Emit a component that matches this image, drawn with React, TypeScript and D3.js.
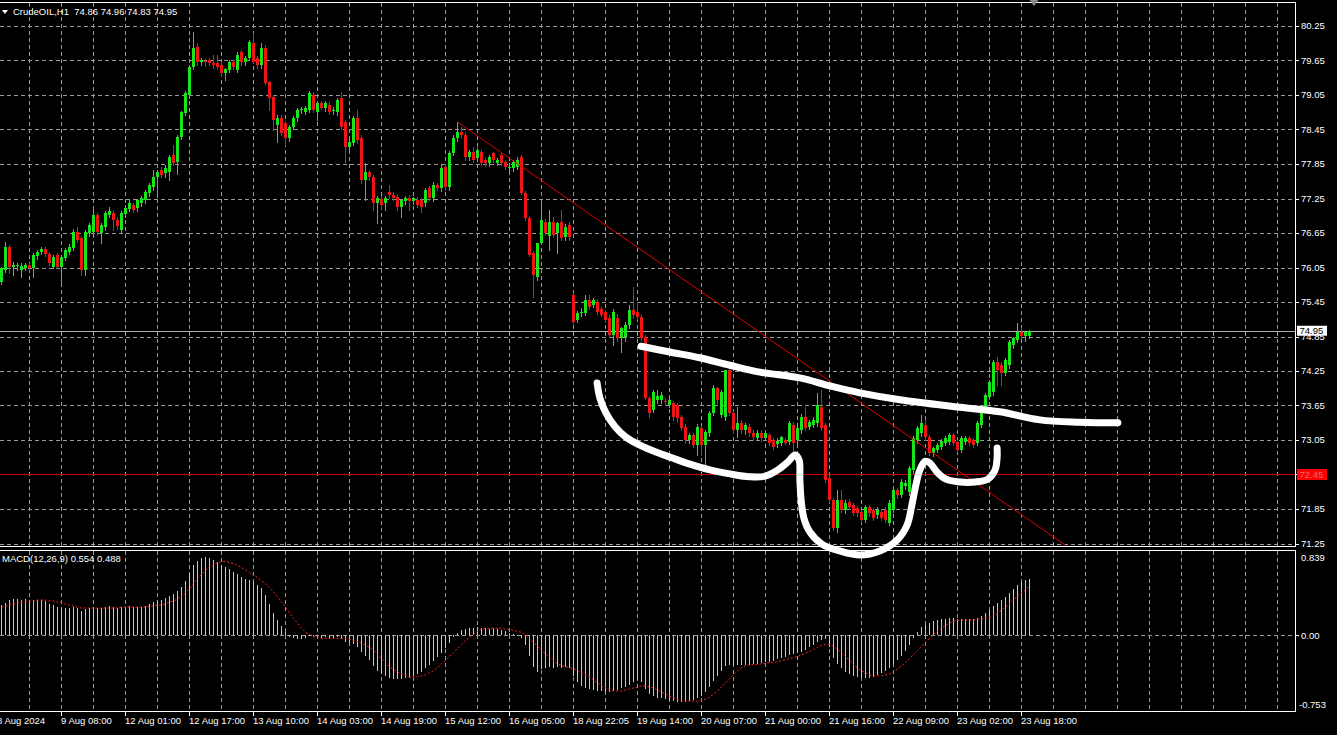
import React from 'react';
import * as d3 from 'd3';

// ---------- DATA ----------
// [open, high, low, close] per H1 bar, CrudeOIL
const bars: number[][] = [
[75.80,76.06,75.76,76.04],[76.01,76.49,75.97,76.41],[76.41,76.44,75.95,76.06],[76.06,76.14,75.92,76.09],[76.07,76.12,76.00,76.10],
[76.00,76.13,75.88,76.07],[76.05,76.12,76.00,76.10],[76.10,76.13,76.01,76.04],[76.04,76.30,75.88,76.27],[76.25,76.36,76.20,76.32],
[76.32,76.41,76.28,76.38],[76.37,76.40,76.25,76.28],[76.28,76.32,76.10,76.13],[76.06,76.27,76.04,76.23],[76.27,76.30,76.04,76.06],
[76.06,76.25,75.80,76.23],[76.22,76.39,76.18,76.35],[76.32,76.45,76.28,76.41],[76.39,76.72,76.35,76.67],[76.67,76.75,76.50,76.53],
[76.56,76.60,75.92,76.01],[76.01,76.70,75.92,76.67],[76.65,76.82,76.60,76.79],[76.67,77.08,76.62,76.96],[76.96,77.00,76.62,76.67],
[76.65,76.82,76.48,76.79],[76.75,77.03,76.70,77.00],[76.96,77.10,76.92,77.04],[77.00,77.05,76.70,76.88],[76.88,76.92,76.72,76.77],
[76.70,77.04,76.65,77.00],[76.98,77.14,76.93,77.08],[77.07,77.22,77.03,77.17],[77.14,77.18,77.02,77.05],[77.08,77.25,77.04,77.22],
[77.17,77.30,77.12,77.26],[77.22,77.40,77.18,77.36],[77.35,77.52,77.30,77.48],[77.45,77.75,77.40,77.62],[77.62,77.74,77.28,77.71],
[77.75,77.80,77.62,77.66],[77.69,77.83,77.62,77.78],[77.71,78.00,77.57,77.97],[78.00,78.18,77.83,77.87],[77.88,78.36,77.68,78.32],
[78.32,78.78,78.28,78.75],[78.74,79.12,78.70,79.08],[79.05,79.58,79.00,79.54],[79.54,80.15,79.50,79.87],[79.88,79.95,79.58,79.62],
[79.62,79.70,79.57,79.65],[79.64,79.68,79.55,79.62],[79.66,79.70,79.58,79.61],[79.61,79.75,79.52,79.57],[79.60,79.75,79.50,79.54],
[79.57,79.62,79.38,79.43],[79.43,79.52,79.31,79.50],[79.48,79.66,79.45,79.62],[79.62,79.66,79.50,79.53],[79.48,79.80,79.45,79.75],
[79.79,79.83,79.58,79.62],[79.62,79.72,79.58,79.70],[79.69,80.00,79.65,79.97],[79.95,80.13,79.60,79.62],[79.69,79.72,79.52,79.57],
[79.57,79.95,79.52,79.87],[79.87,79.92,79.24,79.26],[79.27,79.30,78.79,79.00],[79.02,79.05,78.44,78.62],[78.53,78.70,78.23,78.65],
[78.65,78.70,78.35,78.39],[78.56,78.60,78.18,78.30],[78.30,78.52,78.25,78.49],[78.49,78.68,78.45,78.65],[78.65,78.82,78.60,78.79],
[78.79,78.84,78.74,78.80],[78.76,78.86,78.72,78.83],[78.79,79.12,78.75,79.08],[79.05,79.10,78.75,78.79],[78.75,78.95,78.62,78.91],
[78.91,78.95,78.80,78.83],[78.83,78.94,78.78,78.91],[78.88,78.92,78.72,78.75],[78.78,78.84,78.72,78.79],[78.75,79.00,78.70,78.96],
[79.00,79.10,78.45,78.49],[78.58,78.62,77.89,78.15],[78.15,78.26,78.10,78.23],[78.22,78.68,78.18,78.65],[78.65,78.79,78.22,78.27],
[78.30,78.35,77.52,77.57],[77.57,77.87,77.22,77.71],[77.71,77.75,77.58,77.62],[77.62,77.66,77.05,77.17],[77.17,77.30,76.82,77.26],
[77.24,77.30,77.08,77.14],[77.17,77.30,77.05,77.26],[77.36,77.48,77.26,77.31],[77.31,77.36,77.22,77.26],[77.28,77.32,77.05,77.10],
[77.10,77.25,76.93,77.22],[77.20,77.30,77.15,77.26],[77.26,77.31,77.05,77.20],[77.20,77.28,77.16,77.26],[77.22,77.28,77.10,77.14],
[77.22,77.26,77.02,77.10],[77.17,77.43,77.12,77.40],[77.43,77.47,77.22,77.26],[77.26,77.54,77.20,77.48],[77.48,77.52,77.40,77.43],
[77.43,77.83,77.38,77.78],[77.80,77.85,77.40,77.45],[77.45,78.08,77.40,78.04],[78.04,78.35,78.00,78.30],[78.30,78.58,78.25,78.41],
[78.41,78.49,78.30,78.35],[78.35,78.40,77.92,77.97],[77.97,78.10,77.92,78.06],[78.06,78.15,77.88,77.92],[77.95,78.12,77.90,78.09],
[78.06,78.10,77.83,77.87],[77.92,77.95,77.82,77.87],[77.87,78.00,77.82,77.97],[78.04,78.06,77.88,77.92],[77.87,77.95,77.83,77.92],
[78.01,78.04,77.83,77.87],[77.89,77.92,77.76,77.80],[77.78,77.87,77.69,77.80],[77.78,77.92,77.72,77.89],[77.80,77.97,77.76,77.92],
[77.97,78.01,77.33,77.35],[77.35,77.38,76.88,76.91],[76.91,76.95,76.25,76.27],[76.30,76.33,75.54,75.92],[75.88,76.48,75.83,76.48],
[76.48,77.19,76.45,76.88],[76.85,76.90,76.62,76.65],[76.60,77.05,76.35,76.85],[76.85,76.92,76.58,76.62],[76.65,76.85,76.30,76.82],
[76.85,77.05,76.52,76.56],[76.58,76.80,76.52,76.75],[76.79,76.84,76.52,76.58],[75.57,75.60,75.08,75.10],[75.14,75.30,75.10,75.26],
[75.26,75.35,75.20,75.28],[75.26,75.57,75.22,75.48],[75.48,75.57,75.33,75.36],[75.40,75.52,75.36,75.48],[75.45,75.50,75.24,75.28],
[75.33,75.36,75.20,75.23],[75.28,75.31,75.10,75.14],[75.17,75.22,74.85,74.88],[74.88,75.33,74.70,75.28],[75.17,75.24,74.78,74.82],
[74.82,75.02,74.58,74.99],[74.84,75.10,74.78,75.05],[75.05,75.40,75.00,75.31],[75.31,75.71,75.18,75.23],[75.28,75.45,75.15,75.19],
[75.19,75.24,74.79,74.82],[74.84,74.88,73.76,73.78],[73.78,73.82,73.45,73.52],[73.57,73.92,73.53,73.88],[73.75,73.92,73.70,73.82],
[73.75,73.88,73.70,73.83],[73.73,73.78,73.66,73.72],[73.66,73.78,73.62,73.75],[73.69,73.73,73.40,73.45],[73.66,73.70,73.36,73.43],
[73.45,73.49,73.22,73.26],[73.28,73.32,73.00,73.05],[73.05,73.17,73.00,73.14],[73.14,73.17,72.93,72.96],[72.96,73.32,72.79,73.28],
[73.26,73.30,72.79,72.96],[72.96,73.22,72.53,73.19],[73.17,73.55,73.12,73.52],[73.52,74.00,73.48,73.95],[73.95,73.98,73.70,73.75],
[73.49,73.92,73.45,73.88],[73.45,74.27,73.40,74.27],[74.27,74.30,73.48,73.52],[73.52,73.55,73.18,73.22],[73.22,73.62,73.10,73.35],
[73.35,73.40,73.18,73.22],[73.22,73.35,73.16,73.31],[73.28,73.33,73.12,73.17],[73.17,73.22,73.05,73.10],[73.09,73.22,73.05,73.17],
[73.17,73.22,73.03,73.09],[73.09,73.22,73.05,73.17],[73.14,73.18,72.96,73.00],[73.05,73.08,72.90,72.93],[72.98,73.08,72.93,73.04],
[73.00,73.12,72.96,73.10],[73.05,73.09,72.98,73.00],[73.02,73.38,72.98,73.35],[73.31,73.36,72.84,73.00],[73.05,73.30,73.00,73.26],
[73.22,73.50,73.18,73.45],[73.45,73.62,73.22,73.26],[73.28,73.40,73.24,73.36],[73.31,73.45,73.28,73.40],[73.35,73.87,73.30,73.66],
[73.62,73.92,73.22,73.26],[73.31,73.35,72.32,72.35],[72.39,72.42,71.98,72.01],[72.01,72.05,71.48,71.52],[71.52,72.18,71.45,72.01],
[72.01,72.18,71.80,71.83],[71.83,72.01,71.78,71.96],[71.98,72.03,71.85,71.89],[71.92,71.96,71.74,71.78],[71.86,71.90,71.72,71.78],
[71.80,71.84,71.62,71.66],[71.66,71.92,71.62,71.88],[71.88,71.92,71.72,71.78],[71.83,71.86,71.65,71.70],[71.75,71.88,71.70,71.83],
[71.80,71.85,71.65,71.70],[71.83,71.88,71.62,71.66],[71.61,72.00,71.57,71.96],[71.83,72.22,71.80,72.18],[72.18,72.22,72.05,72.10],
[72.10,72.38,72.06,72.32],[72.25,72.35,72.20,72.30],[72.15,72.60,72.10,72.56],[72.53,73.12,72.48,73.09],[73.05,73.30,73.00,73.26],
[73.17,73.49,73.12,73.35],[73.31,73.40,73.05,73.10],[73.10,73.14,72.79,72.82],[72.82,72.93,72.78,72.91],[72.88,73.00,72.84,72.96],
[72.93,73.07,72.90,73.03],[73.00,73.12,72.96,73.09],[73.02,73.18,72.98,73.14],[73.14,73.18,72.96,73.00],[73.02,73.05,72.84,72.88],
[72.88,73.12,72.84,73.09],[73.02,73.12,72.98,73.09],[73.09,73.12,72.96,73.00],[73.05,73.09,72.92,72.96],[73.00,73.38,72.96,73.35],
[73.31,73.66,73.28,73.62],[73.62,73.87,73.58,73.83],[73.80,74.10,73.76,74.06],[73.88,74.44,73.84,74.41],[74.41,74.49,74.01,74.27],
[74.35,74.40,74.01,74.22],[74.22,74.48,74.18,74.44],[74.35,74.79,74.30,74.75],[74.70,74.85,74.65,74.82],[74.79,75.08,74.75,74.92],
[74.92,75.00,74.82,74.86],[74.86,74.95,74.78,74.92],[74.86,74.96,74.83,74.95],
];

// MACD(12,26,9) main (histogram) values
const macdMain: number[] = [
0.30,0.32,0.35,0.36,0.36,0.35,0.36,0.35,0.35,0.35,
0.35,0.34,0.31,0.30,0.28,0.27,0.27,0.27,0.28,0.27,
0.24,0.26,0.27,0.28,0.27,0.27,0.28,0.29,0.28,0.27,
0.28,0.28,0.29,0.28,0.28,0.28,0.29,0.31,0.33,0.34,
0.35,0.37,0.39,0.41,0.44,0.48,0.54,0.62,0.70,0.74,
0.76,0.77,0.76,0.75,0.73,0.70,0.68,0.66,0.63,0.61,
0.58,0.56,0.55,0.53,0.50,0.47,0.40,0.31,0.22,0.15,
0.09,0.03,-0.02,-0.03,-0.04,-0.04,-0.03,-0.01,-0.02,-0.03,
-0.03,-0.02,-0.03,-0.03,-0.02,-0.04,-0.07,-0.08,-0.09,-0.12,
-0.16,-0.20,-0.24,-0.30,-0.35,-0.38,-0.40,-0.42,-0.43,-0.43,
-0.43,-0.42,-0.42,-0.40,-0.38,-0.36,-0.32,-0.29,-0.25,-0.21,
-0.17,-0.13,-0.08,-0.02,0.02,0.05,0.06,0.07,0.07,0.08,
0.07,0.07,0.06,0.07,0.06,0.05,0.04,0.02,0.01,-0.01,
-0.03,-0.10,-0.20,-0.31,-0.36,-0.33,-0.32,-0.31,-0.32,-0.31,
-0.32,-0.31,-0.32,-0.40,-0.46,-0.50,-0.52,-0.53,-0.54,-0.55,
-0.55,-0.56,-0.56,-0.55,-0.54,-0.52,-0.51,-0.49,-0.46,-0.44,
-0.46,-0.53,-0.58,-0.60,-0.62,-0.62,-0.63,-0.64,-0.65,-0.66,
-0.66,-0.66,-0.65,-0.64,-0.62,-0.60,-0.56,-0.51,-0.45,-0.40,
-0.35,-0.30,-0.29,-0.29,-0.29,-0.29,-0.29,-0.29,-0.28,-0.28,
-0.27,-0.26,-0.26,-0.25,-0.23,-0.22,-0.21,-0.19,-0.18,-0.17,
-0.16,-0.14,-0.12,-0.10,-0.07,-0.05,-0.04,-0.12,-0.22,-0.28,
-0.32,-0.36,-0.38,-0.40,-0.41,-0.42,-0.42,-0.42,-0.41,-0.39,
-0.37,-0.35,-0.32,-0.28,-0.24,-0.20,-0.15,-0.10,-0.03,0.03,
0.08,0.10,0.12,0.14,0.15,0.16,0.16,0.17,0.17,0.16,
0.16,0.16,0.16,0.16,0.17,0.19,0.22,0.25,0.29,0.32,
0.35,0.38,0.42,0.46,0.50,0.53,0.55,0.554,
];

// MACD signal line values
const macdSignal: number[] = [
0.28,0.29,0.30,0.31,0.32,0.33,0.33,0.34,0.34,0.35,
0.35,0.35,0.34,0.34,0.33,0.32,0.31,0.30,0.29,0.28,
0.27,0.27,0.27,0.27,0.27,0.27,0.27,0.27,0.27,0.27,
0.28,0.28,0.28,0.28,0.28,0.28,0.28,0.29,0.29,0.30,
0.30,0.31,0.33,0.34,0.36,0.39,0.42,0.46,0.51,0.56,
0.60,0.64,0.68,0.70,0.72,0.73,0.73,0.72,0.71,0.69,
0.67,0.65,0.62,0.60,0.57,0.54,0.51,0.47,0.43,0.38,
0.33,0.28,0.22,0.17,0.12,0.07,0.03,0.01,-0.01,-0.02,
-0.03,-0.03,-0.03,-0.03,-0.03,-0.03,-0.03,-0.04,-0.05,-0.06,
-0.08,-0.10,-0.12,-0.15,-0.19,-0.23,-0.27,-0.31,-0.34,-0.36,
-0.38,-0.40,-0.41,-0.41,-0.41,-0.40,-0.39,-0.37,-0.35,-0.32,
-0.28,-0.25,-0.21,-0.17,-0.13,-0.09,-0.05,-0.02,0.01,0.04,
0.06,0.07,0.07,0.07,0.07,0.07,0.06,0.06,0.05,0.04,
0.03,0.01,-0.03,-0.07,-0.11,-0.15,-0.18,-0.22,-0.25,-0.28,
-0.30,-0.31,-0.32,-0.33,-0.35,-0.37,-0.39,-0.41,-0.44,-0.47,
-0.50,-0.52,-0.54,-0.55,-0.55,-0.55,-0.54,-0.53,-0.52,-0.51,
-0.50,-0.50,-0.51,-0.52,-0.54,-0.56,-0.58,-0.60,-0.62,-0.63,
-0.64,-0.65,-0.65,-0.65,-0.65,-0.64,-0.63,-0.61,-0.58,-0.55,
-0.51,-0.47,-0.43,-0.39,-0.35,-0.32,-0.30,-0.29,-0.29,-0.29,
-0.28,-0.28,-0.27,-0.27,-0.26,-0.25,-0.24,-0.23,-0.22,-0.21,
-0.19,-0.18,-0.16,-0.14,-0.12,-0.10,-0.09,-0.09,-0.11,-0.14,
-0.17,-0.21,-0.25,-0.29,-0.32,-0.35,-0.37,-0.39,-0.40,-0.40,
-0.40,-0.39,-0.38,-0.36,-0.33,-0.30,-0.27,-0.23,-0.19,-0.15,
-0.11,-0.07,-0.03,0.01,0.04,0.07,0.10,0.12,0.14,0.15,
0.15,0.15,0.15,0.15,0.16,0.16,0.17,0.18,0.20,0.22,
0.25,0.28,0.31,0.35,0.39,0.42,0.45,0.488,
];

// time axis labels (bar index -> label)
const timeLabelBars: number[] = [-1, 15, 31, 47, 63, 79, 95, 111, 127, 143, 159, 175, 191, 207, 223, 239, 255];
const timeLabels: string[] = [
  '8 Aug 2024', '9 Aug 08:00', '12 Aug 01:00', '12 Aug 17:00', '13 Aug 10:00', '14 Aug 03:00',
  '14 Aug 19:00', '15 Aug 12:00', '16 Aug 05:00', '18 Aug 22:05', '19 Aug 14:00', '20 Aug 07:00',
  '21 Aug 00:00', '21 Aug 16:00', '22 Aug 09:00', '23 Aug 02:00', '23 Aug 18:00',
];

const priceTicks: number[] = [80.25, 79.65, 79.05, 78.45, 77.85, 77.25, 76.65, 76.05, 75.45, 74.85, 74.25, 73.65, 73.05, 72.45, 71.85, 71.25];
const macdTicks: number[] = [0.839, 0.0, -0.753];

const symbolName = 'CrudeOIL,H1';
const bidPrice = 74.95;
const levelPrice = 72.45;
const macdLabel = 'MACD(12,26,9)';

// trend line anchors [bar index, price]
const trendLine: number[][] = [[114, 78.58], [267, 71.17]];

// hand-drawn annotations, [bar index, price]
const necklineStroke: number[][] = [
  [159.9, 74.68], [167.1, 74.58], [174.6, 74.48], [182.1, 74.35], [189.6, 74.23], [199.6, 74.13],
  [207.1, 73.99], [214.6, 73.87], [224.6, 73.75], [239.6, 73.62], [249.6, 73.54], [259.6, 73.40],
  [269.6, 73.36], [279.1, 73.35],
];
const cupStroke: number[][] = [
  [148.9, 74.04], [149.6, 73.78], [151.1, 73.52], [153.4, 73.28], [156.1, 73.10], [159.6, 72.96],
  [163.6, 72.84], [167.6, 72.74], [172.1, 72.63], [177.1, 72.53], [182.1, 72.46], [187.1, 72.41],
  [190.9, 72.42], [194.1, 72.53], [196.6, 72.67], [198.4, 72.79], [199.4, 72.70], [199.6, 72.35],
  [199.9, 72.01], [200.6, 71.69], [202.1, 71.45], [205.1, 71.24], [209.6, 71.12], [214.6, 71.05],
  [219.6, 71.12], [223.9, 71.31], [226.4, 71.57], [227.6, 71.92], [228.6, 72.27], [229.6, 72.53],
  [230.9, 72.68], [232.1, 72.65], [233.9, 72.49], [236.1, 72.37], [239.6, 72.32], [243.4, 72.32],
  [246.6, 72.37], [248.4, 72.53], [248.9, 72.74], [248.9, 72.91],
];

// ---------- STYLE ----------
const FONT = "'Liberation Sans', Arial, sans-serif";
const FS = 9.5;
const BULL = '#19e619';
const BEAR = '#f01414';
const GRID = '#9a9a9a';
const DASH = '4,3';
const TEXT = '#ffffff';

export default function App() {
  const W = 1337, H = 735;
  const plotRight = 1295.5;
  const pTop = 2.5, pBottom = 546.5;
  const mTop = 550.5, mBottom = 711.5;

  const n = bars.length;
  const x = d3.scaleLinear().domain([0, n - 1]).range([1.5, 1.5 + 4 * (n - 1)]);
  const y = d3.scaleLinear().domain([71.25, 80.25]).range([543.5, 26]);
  const ym = d3.scaleLinear().domain([-0.753, 0.839]).range([mBottom, mTop]);

  const gridBars = d3.range(7, 330, 8).filter((i) => x(i) < plotRight);

  const signalLine = d3.line<number>().x((_, i) => x(i)).y((d) => ym(d));
  const annLine = d3.line<number[]>().x((d) => x(d[0])).y((d) => y(d[1])).curve(d3.curveCatmullRom.alpha(0.5));
  const last = bars[n - 1];
  const fmt = d3.format('.2f');
  const snap = (v: number) => Math.round(v) + 0.5;

  return (
    <div style={{ position: 'fixed', left: 0, top: 0, width: W, height: H, background: '#000', overflow: 'hidden' }}>
      <svg width={W} height={H} style={{ display: 'block', background: '#000' }} fontFamily={FONT}>
        <defs>
          <clipPath id="pclip"><rect x={0} y={pTop} width={plotRight} height={pBottom - pTop} /></clipPath>
          <clipPath id="mclip"><rect x={0} y={mTop} width={plotRight} height={mBottom - mTop} /></clipPath>
        </defs>

        {/* vertical grid */}
        {gridBars.map((i) => (
          <g key={'vg' + i}>
            <line x1={x(i)} x2={x(i)} y1={pTop} y2={pBottom} stroke={GRID} strokeDasharray={DASH} shapeRendering="crispEdges" />
            <line x1={x(i)} x2={x(i)} y1={mTop} y2={mBottom} stroke={GRID} strokeDasharray={DASH} shapeRendering="crispEdges" />
          </g>
        ))}
        {/* horizontal price grid */}
        {priceTicks.map((p) => (
          <line key={'hg' + p} x1={0} x2={plotRight} y1={snap(y(p))} y2={snap(y(p))}
            stroke={GRID} strokeDasharray={DASH} shapeRendering="crispEdges" />
        ))}
        <line x1={0} x2={plotRight} y1={snap(ym(0))} y2={snap(ym(0))} stroke={GRID} strokeDasharray={DASH} shapeRendering="crispEdges" />

        {/* level line & bid line */}
        <line x1={0} x2={plotRight} y1={snap(y(levelPrice))} y2={snap(y(levelPrice))} stroke="#c80000" shapeRendering="crispEdges" />
        <line x1={0} x2={plotRight} y1={snap(y(bidPrice))} y2={snap(y(bidPrice))} stroke="#b0b0b0" shapeRendering="crispEdges" />

        {/* candles */}
        <g clipPath="url(#pclip)" shapeRendering="crispEdges">
          {bars.map((b, i) => {
            const [o, h, l, c] = b;
            const col = c >= o ? BULL : BEAR;
            const yTop = Math.round(y(Math.max(o, c)));
            const yBot = Math.round(y(Math.min(o, c)));
            return (
              <g key={'c' + i}>
                <line x1={x(i)} x2={x(i)} y1={Math.round(y(h))} y2={Math.round(y(l)) + 1} stroke={col} />
                <rect x={x(i) - 1.5} y={yTop} width={3} height={Math.max(1, yBot - yTop)} fill={col} />
              </g>
            );
          })}
          {/* trend line */}
          <line x1={x(trendLine[0][0])} y1={y(trendLine[0][1])} x2={x(trendLine[1][0])} y2={y(trendLine[1][1])}
            stroke="#e00000" strokeWidth={1} shapeRendering="auto" />
        </g>

        {/* MACD histogram */}
        <g clipPath="url(#mclip)" shapeRendering="crispEdges">
          {macdMain.map((v, i) => (
            <line key={'h' + i} x1={x(i)} x2={x(i)} y1={ym(0)} y2={ym(v)} stroke="#c8c8c8" />
          ))}
          <path d={signalLine(macdSignal) || ''} fill="none" stroke="#ff2020" strokeWidth={1} strokeDasharray="2,2" shapeRendering="auto" />
        </g>

        {/* panel borders */}
        <g stroke="#ffffff" fill="none" shapeRendering="crispEdges">
          <line x1={0} x2={plotRight} y1={pTop} y2={pTop} />
          <line x1={plotRight} x2={plotRight} y1={pTop} y2={pBottom} />
          <line x1={0} x2={plotRight} y1={pBottom} y2={pBottom} />
          <line x1={0} x2={plotRight} y1={mTop} y2={mTop} />
          <line x1={plotRight} x2={plotRight} y1={mTop} y2={mBottom} />
          <line x1={0} x2={plotRight} y1={mBottom} y2={mBottom} />
        </g>

        {/* price axis */}
        {priceTicks.map((p) => (
          <g key={'pt' + p}>
            <line x1={plotRight} x2={plotRight + 3} y1={snap(y(p))} y2={snap(y(p))} stroke="#fff" shapeRendering="crispEdges" />
            <text x={1301} y={y(p)} dy="0.35em" fontSize={FS} fill={TEXT}>{fmt(p)}</text>
          </g>
        ))}
        {/* bid label */}
        <rect x={1297} y={y(bidPrice) - 5} width={30} height={10} fill="#ffffff" />
        <text x={1299.5} y={y(bidPrice)} dy="0.35em" fontSize={FS} fill="#000">{fmt(bidPrice)}</text>
        {/* level label */}
        <rect x={1297} y={y(levelPrice) - 5.5} width={30} height={11} fill="#ff0000" />
        <text x={1299.5} y={y(levelPrice)} dy="0.35em" fontSize={FS} fill="#e86a6a">{fmt(levelPrice)}</text>

        {/* macd axis */}
        <text x={1301} y={mTop + 7} dy="0.35em" fontSize={FS} fill={TEXT}>{macdTicks[0].toFixed(3)}</text>
        <line x1={plotRight} x2={plotRight + 3} y1={snap(ym(0))} y2={snap(ym(0))} stroke="#fff" shapeRendering="crispEdges" />
        <text x={1301} y={ym(0)} dy="0.35em" fontSize={FS} fill={TEXT}>{macdTicks[1].toFixed(2)}</text>
        <text x={1299} y={mBottom - 7} dy="0.35em" fontSize={FS} fill={TEXT}>{macdTicks[2].toFixed(3)}</text>

        {/* time axis */}
        {timeLabelBars.map((b, k) => (
          <g key={'tl' + k}>
            <line x1={x(b)} x2={x(b)} y1={mBottom} y2={mBottom + 4} stroke="#fff" shapeRendering="crispEdges" />
            <text x={x(b) - 0.5} y={721} dy="0.35em" fontSize={FS} fill={TEXT}>{timeLabels[k]}</text>
          </g>
        ))}

        {/* headers */}
        <path d="M2,10 L8,10 L5,14 Z" fill="#fff" />
        <text x={13} y={12} dy="0.35em" fontSize={FS} fill={TEXT} xmlSpace="preserve">
          {`${symbolName}  ${fmt(last[0])} ${fmt(last[1])} ${fmt(last[2])} ${fmt(last[3])}`}
        </text>
        <text x={2} y={558.5} dy="0.35em" fontSize={FS} fill={TEXT}>
          {`${macdLabel} ${macdMain[n - 1].toFixed(3)} ${macdSignal[n - 1].toFixed(3)}`}
        </text>
        {/* chart shift marker */}
        <path d={`M${x(n - 1)},0 L${x(n - 1) + 9},0 L${x(n - 1) + 4.5},6 Z`} fill="#8a8a8a" />

        {/* hand-drawn annotations */}
        <g fill="none" stroke="#ffffff" strokeWidth={7} strokeLinecap="round" strokeLinejoin="round">
          <path d={annLine(necklineStroke) || ''} />
          <path d={annLine(cupStroke) || ''} />
        </g>
      </svg>
    </div>
  );
}
